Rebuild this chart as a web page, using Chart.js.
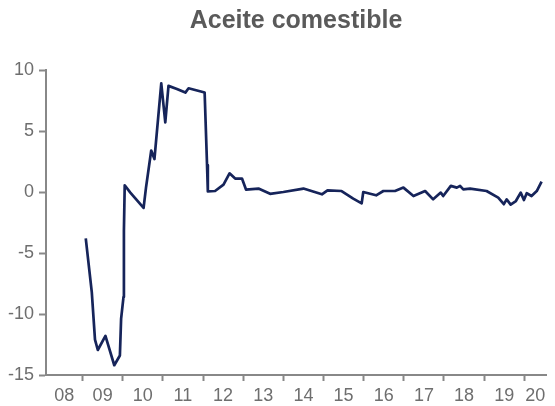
<!DOCTYPE html>
<html>
<head>
<meta charset="utf-8">
<script src="https://cdn.jsdelivr.net/npm/chart.js@4/dist/chart.umd.min.js"></script>
<style>
  body { margin: 0; background: #fff; }
  canvas { display: block; }
</style>
</head>
<body>
<canvas id="grafico" width="555" height="406"></canvas>
<script>
// fecha en años decimales y variación (%)
const fechas = [
  2009.08, 2009.23, 2009.31, 2009.38, 2009.57, 2009.79, 2009.93, 2009.96, 2010.02, 2010.03,
  2010.05, 2010.19, 2010.52, 2010.58, 2010.71, 2010.79, 2010.96, 2011.06, 2011.14, 2011.35,
  2011.56, 2011.64, 2012.04, 2012.10, 2012.12, 2012.30, 2012.51, 2012.66, 2012.80, 2012.97,
  2013.07, 2013.38, 2013.67, 2014.00, 2014.50, 2014.96, 2015.10, 2015.45, 2015.74, 2015.95,
  2015.99, 2016.31, 2016.49, 2016.78, 2016.99, 2017.24, 2017.53, 2017.73, 2017.92, 2017.98,
  2018.17, 2018.32, 2018.40, 2018.48, 2018.65, 2019.06, 2019.35, 2019.49, 2019.56, 2019.66,
  2019.79, 2019.91, 2019.99, 2020.06, 2020.18, 2020.31, 2020.43
];
const valores = [
  -3.8, -8.2, -12.1, -12.95, -11.8, -14.2, -13.4, -10.4, -8.6, -3.2,
  0.55, -0.05, -1.3, 0.36, 3.4, 2.7, 8.9, 5.7, 8.7, 8.45,
  8.15, 8.5, 8.15, 2.2, 0.05, 0.08, 0.6, 1.53, 1.1, 1.1,
  0.2, 0.28, -0.15, 0.0, 0.28, -0.19, 0.14, 0.08, -0.54, -0.93,
  0.0, -0.27, 0.08, 0.08, 0.36, -0.33, 0.08, -0.6, -0.05, -0.33,
  0.5, 0.36, 0.5, 0.22, 0.28, 0.08, -0.46, -1.0, -0.6, -1.03,
  -0.74, -0.05, -0.66, -0.1, -0.33, 0.08, 0.85
];
const anios = [2008, 2009, 2010, 2011, 2012, 2013, 2014, 2015, 2016, 2017, 2018, 2019, 2020];
const etiquetasAnio = ['08', '09', '10', '11', '12', '13', '14', '15', '16', '17', '18', '19', '20'];
const ticksY = [-15, -10, -5, 0, 5, 10];

const inicio = 2008.09;
const fin = 2020.54;
const fuente = "'Liberation Sans', Arial, sans-serif";
const gris = '#888888';

const puntos = fechas.map((f, i) => ({ x: f, y: valores[i] }));

new Chart(document.getElementById('grafico'), {
  type: 'line',
  data: {
    datasets: [{
      data: puntos,
      borderColor: '#16245a',
      borderWidth: 2.7,
      pointRadius: 0,
      tension: 0,
      borderJoinStyle: 'round',
      xAxisID: 'x',
      yAxisID: 'y'
    }]
  },
  options: {
    responsive: false,
    animation: false,
    layout: { padding: { left: 0, right: 9, bottom: 1 } },
    plugins: {
      legend: { display: false },
      tooltip: { enabled: false },
      title: {
        display: true,
        text: 'Aceite comestible',
        fullSize: false,
        color: '#5a5a5a',
        font: { family: fuente, size: 25, weight: 'bold' },
        padding: { top: 6, bottom: 34 }
      }
    },
    scales: {
      x: {
        type: 'linear',
        position: 'bottom',
        min: inicio,
        max: fin,
        afterBuildTicks: (eje) => {
          eje.ticks = anios.filter(a => a > inicio && a < fin).map(a => ({ value: a }));
        },
        afterFit: (eje) => { eje.height = 6; },
        ticks: { display: false },
        grid: { drawOnChartArea: false, tickLength: 6, tickWidth: 2, tickColor: gris },
        border: { color: gris, width: 2 }
      },
      x2: {
        type: 'linear',
        position: 'bottom',
        min: inicio,
        max: fin,
        afterBuildTicks: (eje) => {
          eje.ticks = anios.map(a => ({ value: (Math.max(a, inicio) + Math.min(a + 1, fin)) / 2 }));
        },
        afterFit: (eje) => { eje.height = 24; },
        ticks: {
          autoSkip: false,
          maxRotation: 0,
          padding: -4,
          color: '#6e6e6e',
          font: { family: fuente, size: 18 },
          callback: (v, i) => etiquetasAnio[i]
        },
        grid: { display: false },
        border: { display: false }
      },
      y: {
        min: -15,
        max: 10,
        afterBuildTicks: (eje) => {
          eje.ticks = ticksY.map(v => ({ value: v }));
        },
        afterFit: (eje) => { eje.width = 46; },
        ticks: {
          padding: 5,
          color: '#6e6e6e',
          font: { family: fuente, size: 18 }
        },
        grid: { drawOnChartArea: false, tickLength: 7, tickWidth: 2, tickColor: gris },
        border: { color: gris, width: 2 }
      }
    }
  }
});
</script>
</body>
</html>
